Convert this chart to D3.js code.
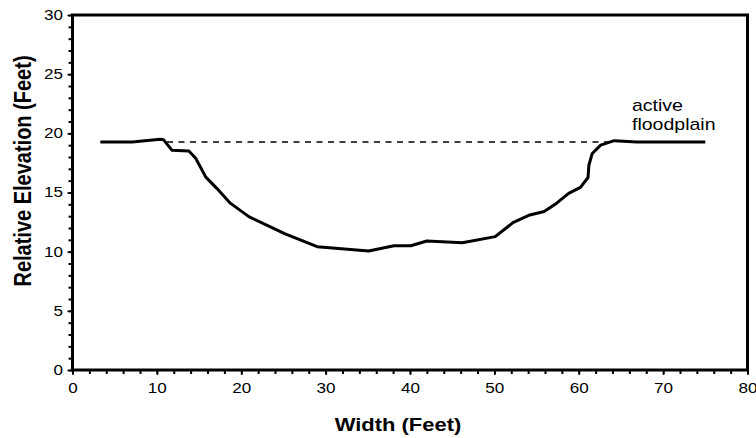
<!DOCTYPE html>
<html>
<head>
<meta charset="utf-8">
<script src="https://cdn.jsdelivr.net/npm/d3@7"></script>
<style>
  html, body { margin: 0; padding: 0; background: #fff; }
  svg { display: block; }
  text { font-family: "Liberation Sans", Arial, sans-serif; fill: #000; }
</style>
</head>
<body>
<svg id="chart" width="756" height="438"></svg>
<script>
// ---- data ----
const widthFeet = [3.3, 7.1, 10.4, 10.8, 11.8, 13.8, 14.6, 15.8, 17.1, 18.7, 20.9, 25.2, 29.0, 35.1, 38.1, 40.1, 42.0, 46.2, 50.1, 52.2, 54.2, 55.9, 57.2, 58.8, 60.2, 61.1, 61.2, 61.6, 62.6, 64.2, 66.9, 75.0];
const elevationFeet = [19.27, 19.27, 19.5, 19.45, 18.56, 18.5, 17.9, 16.3, 15.35, 14.1, 12.96, 11.5, 10.42, 10.06, 10.5, 10.5, 10.9, 10.76, 11.27, 12.45, 13.1, 13.4, 14.0, 14.93, 15.43, 16.27, 17.3, 18.3, 19.0, 19.38, 19.27, 19.27];
const floodplainLevel = 19.27;
const floodplainExtent = [11.2, 63.5];
const xTicks = [0, 10, 20, 30, 40, 50, 60, 70, 80];
const yTicks = [0, 5, 10, 15, 20, 25, 30];
const xTitle = "Width (Feet)";
const yTitle = "Relative Elevation (Feet)";
const annotation = ["active", "floodplain"];

// ---- layout ----
const svg = d3.select("#chart");
const mLeft = 72.5, mRight = 747.5, mTop = 15, mBottom = 370;
const SX = 1.22; // horizontal text stretch seen in the reference

const x = d3.scaleLinear().domain([0, 80]).range([mLeft, mRight]);
const y = d3.scaleLinear().domain([0, 30]).range([mBottom, mTop]);

// minor ticks
svg.append("g")
  .attr("transform", `translate(0,${mBottom})`)
  .call(d3.axisBottom(x).tickValues(d3.range(0, 81, 2)).tickSize(4).tickFormat(""))
  .call(g => g.select(".domain").remove())
  .call(g => g.selectAll("line").attr("stroke-width", 2));
svg.append("g")
  .attr("transform", `translate(${mLeft},0)`)
  .call(d3.axisLeft(y).tickValues(d3.range(0, 31, 1)).tickSize(4).tickFormat(""))
  .call(g => g.select(".domain").remove())
  .call(g => g.selectAll("line").attr("stroke-width", 2));

// major axes
const xAxis = svg.append("g")
  .attr("transform", `translate(0,${mBottom})`)
  .call(d3.axisBottom(x).tickValues(xTicks).tickSize(5).tickPadding(8).tickFormat(d3.format("d")));
const yAxis = svg.append("g")
  .attr("transform", `translate(${mLeft},0)`)
  .call(d3.axisLeft(y).tickValues(yTicks).tickSize(5).tickPadding(5).tickFormat(d3.format("d")));

[xAxis, yAxis].forEach(g => {
  g.select(".domain").remove();
  g.selectAll("line").attr("stroke", "#000").attr("stroke-width", 1.5);
  g.selectAll("text").attr("font-size", 14).attr("fill", "#000")
    .style("font-family", '"Liberation Sans", Arial, sans-serif');
});
xAxis.selectAll("text").attr("y", 13).attr("transform", `scale(${SX},1)`);
yAxis.selectAll("text").attr("x", -9.5 / SX).attr("transform", `scale(${SX},1)`);

// frame
svg.append("rect")
  .attr("x", mLeft).attr("y", mTop)
  .attr("width", mRight - mLeft).attr("height", mBottom - mTop)
  .attr("fill", "none").attr("stroke", "#000").attr("stroke-width", 3);

// dashed floodplain line
svg.append("line")
  .attr("x1", x(floodplainExtent[0])).attr("x2", x(floodplainExtent[1]))
  .attr("y1", y(floodplainLevel)).attr("y2", y(floodplainLevel))
  .attr("stroke", "#000").attr("stroke-width", 1.4)
  .attr("stroke-dasharray", "6,5.5");

// cross-section profile
const pts = widthFeet.map((w, i) => [w, elevationFeet[i]]);
svg.append("path")
  .datum(pts)
  .attr("fill", "none").attr("stroke", "#000").attr("stroke-width", 3)
  .attr("stroke-linejoin", "round")
  .attr("d", d3.line().x(d => x(d[0])).y(d => y(d[1])));

// annotation
annotation.forEach((t, i) => {
  svg.append("text")
    .attr("transform", `translate(632,${111 + i * 19}) scale(${SX},1)`)
    .attr("font-size", 16)
    .text(t);
});

// axis titles
svg.append("text")
  .attr("transform", `translate(${(mLeft + mRight) / 2 - 12},431) scale(${SX},1)`)
  .attr("text-anchor", "middle")
  .attr("font-size", 18).attr("font-weight", "bold")
  .text(xTitle);
svg.append("text")
  .attr("transform", `translate(31,171) scale(${SX},1) rotate(-90)`)
  .attr("text-anchor", "middle")
  .attr("font-size", 20).attr("font-weight", "bold")
  .text(yTitle);
</script>
</body>
</html>
